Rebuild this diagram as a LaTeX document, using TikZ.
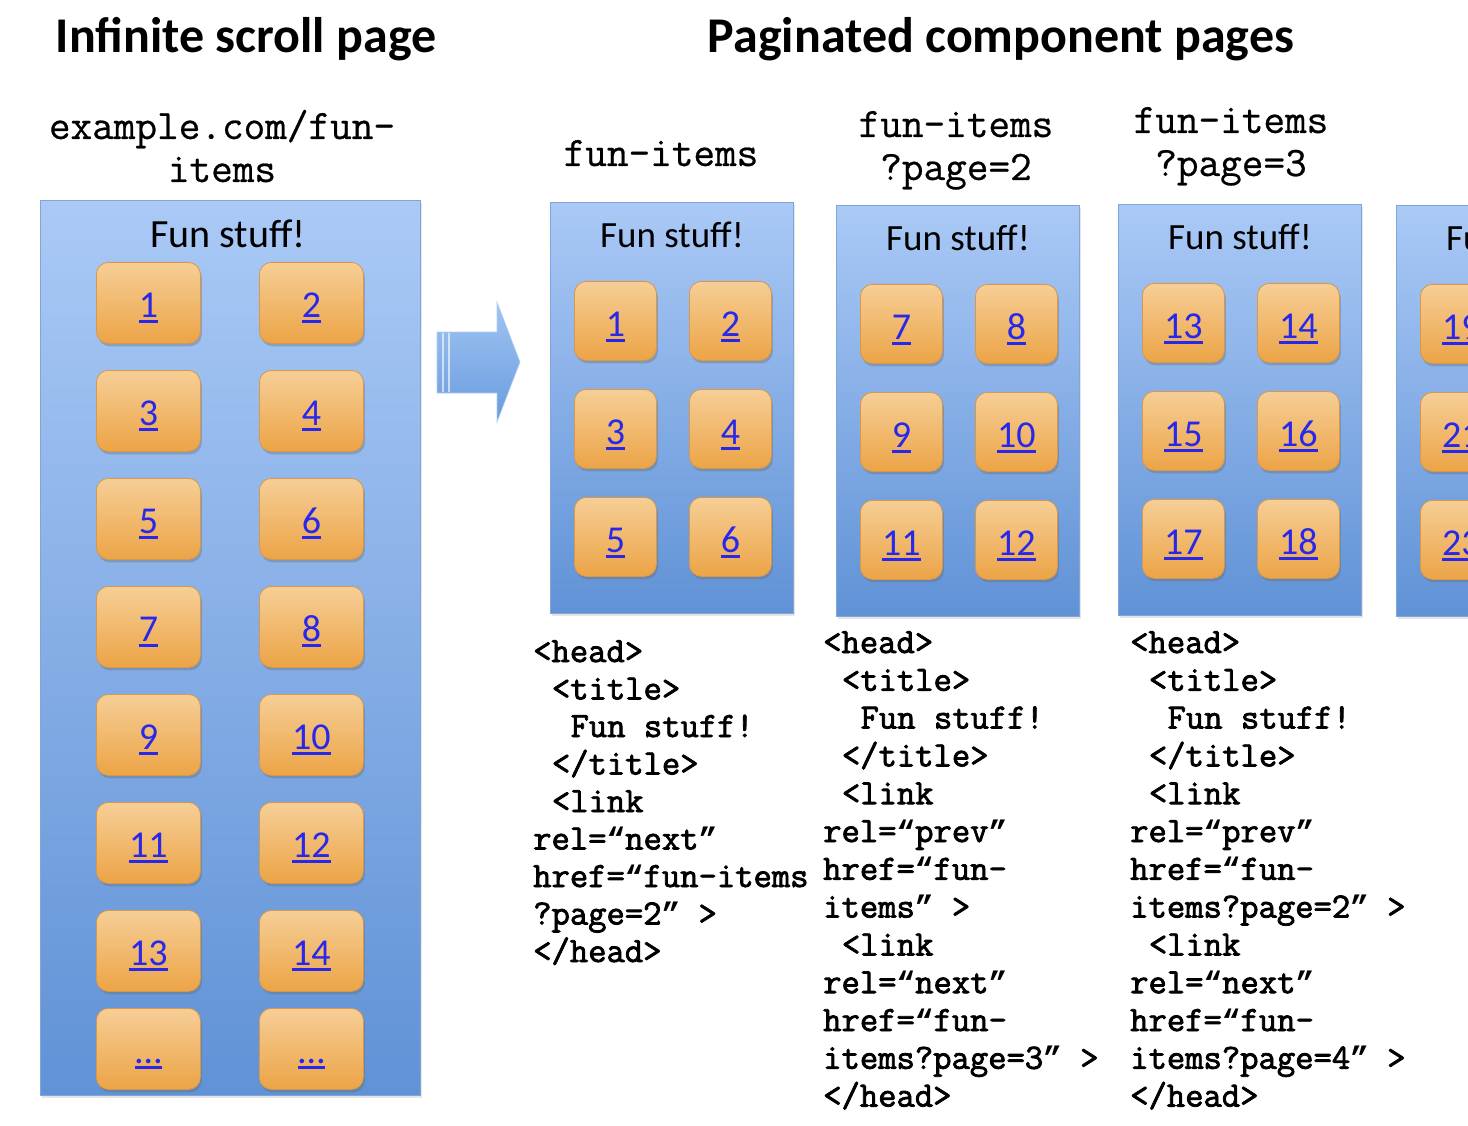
\documentclass[tikz,border=0pt]{standalone}
\usepackage{fontspec}
\setmainfont{Carlito}
\newfontfamily\monofont{Latin Modern Mono}[FakeBold=0.6]
\newfontfamily\codefont{Latin Modern Mono}[FakeBold=2.2]
\newfontfamily\quotefont{Liberation Mono}
\newcommand\oq{{\quotefont\bfseries\fontsize{31.1}{40}\selectfont “}}
\newcommand\cq{{\quotefont\bfseries\fontsize{31.1}{40}\selectfont ”}}
\usetikzlibrary{shadows}
\definecolor{panelTop}{RGB}{170,201,246}
\definecolor{panelBot}{RGB}{96,146,214}
\definecolor{panelBorder}{RGB}{130,165,215}
\definecolor{tileTop}{RGB}{246,206,150}
\definecolor{tileBot}{RGB}{236,164,70}
\definecolor{tileBorder}{RGB}{215,152,75}
\definecolor{linkBlue}{RGB}{40,40,235}
\definecolor{arrowTop}{RGB}{160,196,242}
\definecolor{arrowBot}{RGB}{105,155,222}
\newcommand\ulnum[1]{\setbox0\hbox{#1}\rlap{\rule[-6pt]{\wd0}{2.6pt}}\box0}
\newcommand\tileat[6]{\node[tile, minimum width=#4pt, minimum height=#5pt] (#1) at (#2,#3) {};
  \node[num] (#1n) at ([yshift=-55pt]#1.north) {\ulnum{#6}};}
\newcommand\codeln[4]{\node[code] (#1) at (#2,#3) {#4};}
\begin{document}
\begin{tikzpicture}[x=1pt,y=-1pt,
  panel/.style={draw=panelBorder, line width=0.8pt, top color=panelTop, bottom color=panelBot,
    anchor=north west, inner sep=0pt,
    drop shadow={shadow xshift=2pt, shadow yshift=-3pt, opacity=0.2, fill=black!50}},
  tile/.style={draw=tileBorder, line width=0.8pt, rounded corners=12pt, top color=tileTop, bottom color=tileBot,
    anchor=north west, inner sep=0pt,
    drop shadow={shadow xshift=1.5pt, shadow yshift=-3pt, opacity=0.35, fill=black!60}},
  num/.style={font=\fontsize{38}{44}\selectfont, text=linkBlue, anchor=base, inner sep=0pt},
  heading/.style={font=\fontsize{50}{60}\selectfont\bfseries, anchor=base, inner sep=0pt},
  fun/.style={font=\fontsize{37}{44}\selectfont, anchor=base, inner sep=0pt},
  url/.style={font=\monofont\fontsize{42}{48}\selectfont, anchor=base, inner sep=0pt},
  code/.style={font=\codefont\fontsize{35.6}{40}\selectfont, anchor=base west, inner sep=0pt},
  arrowshape/.style={top color=arrowTop, bottom color=arrowBot, draw=arrowTop!80!white, line width=0.6pt}
]
\useasboundingbox (0,0) rectangle (1468,1126);
\clip (0,0) rectangle (1468,1126);
\fill[white] (0,0) rectangle (1468,1126);

% headings
\node[heading] (h1) at (246,53) {Infinite scroll page};
\node[heading] (h2) at (1001,53) {Paginated component pages};

% url labels
\node[url] (u1a) at (222,139) {example.com/fun-};
\node[url] (u1b) at (222,182) {items};
\node[url] (u2a) at (661,166) {fun-items};
\node[url] (u3a) at (956,137) {fun-items};
\node[url] (u3b) at (956,180) {?page=2};
\node[url] (u4a) at (1231,133) {fun-items};
\node[url] (u4b) at (1231,176) {?page=3};

% left infinite panel
\node[panel, minimum width=380pt, minimum height=895pt] (LP) at (40,200) {};
\node[fun, font=\fontsize{40}{46}\selectfont] (LPt) at (228,248) {Fun stuff!};
\foreach \r/\top/\a/\b in {1/262/1/2, 2/370/3/4, 3/478/5/6, 4/586/7/8, 5/694/9/10, 6/802/11/12, 7/910/13/14, 8/1008/…/…}{
  \tileat{L\r x1}{96}{\top}{104}{81}{\a}
  \tileat{L\r x2}{259}{\top}{104}{81}{\b}
}

% block arrow
\path[arrowshape] (437,332) -- (497,332) -- (497,302) -- (520,362) -- (497,422) -- (497,393) -- (437,393) -- cycle;
\draw[white, opacity=0.6, line width=1.2pt] (443,333) -- (443,392);
\draw[white, opacity=0.6, line width=1.2pt] (449,333) -- (449,392);

% paginated panels
\foreach \k/\px/\py/\na/\nb/\nc/\nd/\ne/\nf in {2/550/202/1/2/3/4/5/6, 3/836/205/7/8/9/10/11/12, 4/1118/204/13/14/15/16/17/18, 5/1396/205/19/20/21/22/23/24}{
  \node[panel, minimum width=243pt, minimum height=411pt] (P\k) at (\px,\py) {};
  \node[fun] (P\k t) at (\px+122,\py+46) {Fun stuff!};
  \tileat{P\k x1}{\px+24}{\py+79}{82}{79}{\na}
  \tileat{P\k x2}{\px+139}{\py+79}{82}{79}{\nb}
  \tileat{P\k x3}{\px+24}{\py+187}{82}{79}{\nc}
  \tileat{P\k x4}{\px+139}{\py+187}{82}{79}{\nd}
  \tileat{P\k x5}{\px+24}{\py+295}{82}{79}{\ne}
  \tileat{P\k x6}{\px+139}{\py+295}{82}{79}{\nf}
}

% code block 1
\codeln{ca0}{533}{662}{<head>}
\codeln{ca1}{551.7}{699.5}{<title>}
\codeln{ca2}{570.4}{737}{Fun stuff!}
\codeln{ca3}{551.7}{774.5}{</title>}
\codeln{ca4}{551.7}{812}{<link}
\codeln{ca5}{533}{849.5}{rel=\oq next\cq}
\codeln{ca6}{533}{887}{href=\oq fun-items}
\codeln{ca7}{533}{924.5}{?page=2\cq{} >}
\codeln{ca8}{533}{962}{</head>}

% code block 2
\codeln{cb0}{823}{653}{<head>}
\codeln{cb1}{841.7}{690.8}{<title>}
\codeln{cb2}{860.4}{728.6}{Fun stuff!}
\codeln{cb3}{841.7}{766.4}{</title>}
\codeln{cb4}{841.7}{804.2}{<link}
\codeln{cb5}{823}{842}{rel=\oq prev\cq}
\codeln{cb6}{823}{879.8}{href=\oq fun-}
\codeln{cb7}{823}{917.6}{items\cq{} >}
\codeln{cb8}{841.7}{955.4}{<link}
\codeln{cb9}{823}{993.2}{rel=\oq next\cq}
\codeln{cb10}{823}{1031}{href=\oq fun-}
\codeln{cb11}{823}{1068.8}{items?page=3\cq{} >}
\codeln{cb12}{823}{1106.6}{</head>}

% code block 3
\codeln{cc0}{1130}{653}{<head>}
\codeln{cc1}{1148.7}{690.8}{<title>}
\codeln{cc2}{1167.4}{728.6}{Fun stuff!}
\codeln{cc3}{1148.7}{766.4}{</title>}
\codeln{cc4}{1148.7}{804.2}{<link}
\codeln{cc5}{1130}{842}{rel=\oq prev\cq}
\codeln{cc6}{1130}{879.8}{href=\oq fun-}
\codeln{cc7}{1130}{917.6}{items?page=2\cq{} >}
\codeln{cc8}{1148.7}{955.4}{<link}
\codeln{cc9}{1130}{993.2}{rel=\oq next\cq}
\codeln{cc10}{1130}{1031}{href=\oq fun-}
\codeln{cc11}{1130}{1068.8}{items?page=4\cq{} >}
\codeln{cc12}{1130}{1106.6}{</head>}
\end{tikzpicture}
\end{document}
